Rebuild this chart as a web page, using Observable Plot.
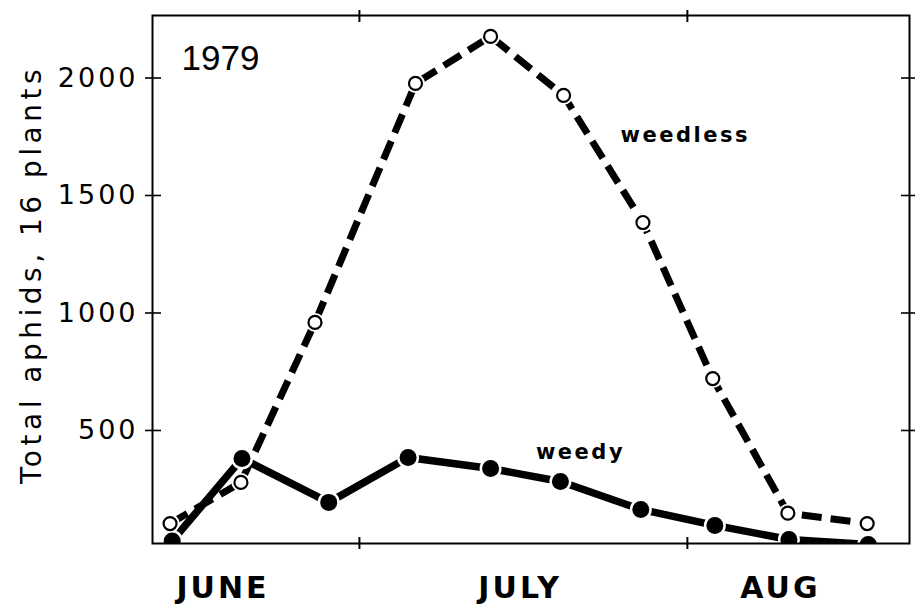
<!DOCTYPE html>
<html>
<head>
<meta charset="utf-8">
<script src="https://cdn.jsdelivr.net/npm/d3@7"></script>
<script src="https://cdn.jsdelivr.net/npm/@observablehq/plot@0.6"></script>
<style>
  html, body { margin: 0; padding: 0; background: #ffffff; }
  #chart { width: 915px; height: 606px; }
</style>
</head>
<body>
<div id="chart"></div>
<script>
// Day numbers: June 1 = 1, July 1 = 31, Aug 1 = 62
const weedlessDays = [12.6, 19.3, 26.3, 35.8, 42.9, 49.8, 57.3, 63.9, 71.0, 78.5];
const weedlessAphids = [104, 279, 960, 1977, 2177, 1926, 1385, 721, 148, 104];
const weedyDays = [12.8, 19.4, 27.6, 35.1, 42.9, 49.5, 57.1, 64.1, 71.1, 78.6];
const weedyAphids = [30, 381, 194, 385, 338, 283, 164, 96, 36, 15];

const yTicks = [500, 1000, 1500, 2000];
const monthBounds = [30.5, 61.5];
const monthNames = ["JUNE", "JULY", "AUG"];
const monthLabelDays = [17.6, 45.7, 70.3];

const seriesNames = ["weedless", "weedy"];
const seriesLabelDays = [61.3, 51.4];
const seriesLabelAphids = [1755, 406];

const yearLabel = "1979";
const yLabel = "Total aphids, 16 plants";

const weedless = weedlessDays.map((d, i) => ({day: d, aphids: weedlessAphids[i]}));
const weedy = weedyDays.map((d, i) => ({day: d, aphids: weedyAphids[i]}));
const months = monthNames.map((n, i) => ({name: n, day: monthLabelDays[i]}));
const seriesLabels = seriesNames.map((n, i) => ({name: n, day: seriesLabelDays[i], aphids: seriesLabelAphids[i]}));

const chart = Plot.plot({
  width: 915,
  height: 606,
  marginLeft: 152,
  marginTop: 15,
  marginRight: 6,
  marginBottom: 63,
  x: {domain: [10.94, 82.5], label: null},
  y: {domain: [19, 2266], label: null},
  style: {fontFamily: "DejaVu Sans", background: "#ffffff", color: "#000000", overflow: "visible"},
  marks: [
    // weedy line (solid, heavy)
    Plot.line(weedy, {x: "day", y: "aphids", stroke: "#000", strokeWidth: 7.5, clip: true}),
    // weedless line (heavy dashes)
    Plot.line(weedless, {x: "day", y: "aphids", stroke: "#000", strokeWidth: 7, strokeDasharray: "20,9", strokeLinecap: "butt", clip: true}),
    // white halos around markers
    Plot.dot(weedy, {x: "day", y: "aphids", r: 11, fill: "#fff", stroke: "none", clip: true}),
    Plot.dot(weedless, {x: "day", y: "aphids", r: 9.5, fill: "#fff", stroke: "none", clip: true}),
    Plot.dot(weedy, {x: "day", y: "aphids", r: 8.5, fill: "#000", stroke: "none", clip: true}),
    Plot.dot(weedless, {x: "day", y: "aphids", r: 6.5, fill: "#fff", stroke: "#000", strokeWidth: 2.2, clip: true}),
    Plot.frame({stroke: "#000", strokeWidth: 2}),
    Plot.axisY({ticks: yTicks, anchor: "left", tickSize: 16, dx: 9, tickPadding: 7, fontSize: 27, strokeWidth: 1.6, label: null, tickFormat: d => String(d)}),
    Plot.axisY({ticks: yTicks, anchor: "right", tickSize: 16, dx: -9, tickFormat: () => "", strokeWidth: 1.6, label: null}),
    Plot.axisX({ticks: monthBounds, anchor: "bottom", tickSize: 12, dy: -6, tickFormat: () => "", strokeWidth: 2, label: null}),
    Plot.axisX({ticks: monthBounds, anchor: "top", tickSize: 12, dy: 6, tickFormat: () => "", strokeWidth: 2, label: null}),
    Plot.text(months, {x: "day", text: "name", frameAnchor: "bottom", dy: 54, fontSize: 30, fontWeight: "bold"}),
    Plot.text(seriesLabels, {x: "day", y: "aphids", text: "name", fontSize: 21, fontWeight: "bold"}),
    Plot.text([yearLabel], {frameAnchor: "top-left", dx: 29, dy: 30, textAnchor: "start", fontSize: 35, fontFamily: "Liberation Sans"}),
    Plot.text([yLabel], {frameAnchor: "left", dx: -120, dy: -5, rotate: -90, textAnchor: "middle", fontSize: 28})
  ]
});

document.getElementById("chart").appendChild(chart);

// letter spacing by text content
const spacing = new Map();
yTicks.forEach(t => spacing.set(String(t), "3px"));
monthNames.forEach(n => spacing.set(n, "3px"));
seriesNames.forEach(n => spacing.set(n, "2.5px"));
spacing.set(yLabel, "4.5px");
chart.querySelectorAll("text").forEach(t => {
  const s = spacing.get(t.textContent.trim());
  if (s) t.setAttribute("letter-spacing", s);
});
</script>
</body>
</html>
